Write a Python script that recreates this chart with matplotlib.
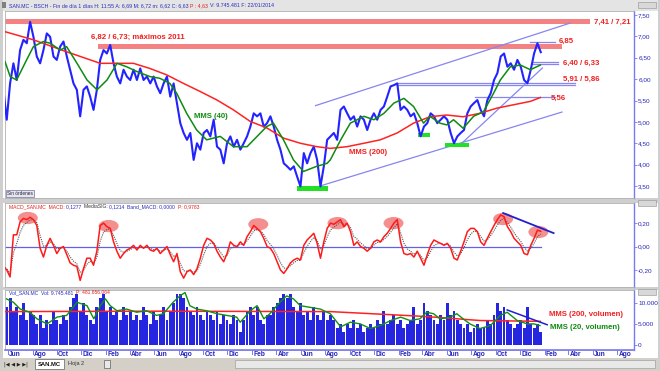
import numpy as np
import pandas as pd
import matplotlib
matplotlib.use('Agg')
import matplotlib.pyplot as plt
import matplotlib.dates as mdates
from matplotlib.patches import Ellipse, Rectangle

plt.rcParams['font.family'] = ['Liberation Sans', 'DejaVu Sans']

# ---------------- data ----------------
price_start, price_end = '2010-05-20', '2014-01-22'
close = [
    5.75, 5.05, 5.90, 6.37, 5.98, 6.68, 6.92, 6.84, 7.34, 6.99,
    6.53, 6.37, 6.68, 7.07, 6.99, 6.53, 6.45, 6.76, 6.88, 6.53,
    6.22, 5.90, 5.75, 5.13, 5.75, 5.83, 5.59, 5.28, 5.75, 6.45,
    6.68, 6.60, 6.80, 6.37, 6.06, 5.90, 6.22, 6.06, 5.98, 6.22,
    5.98, 6.25, 5.98, 6.06, 5.90, 6.06, 5.83, 5.67, 5.90, 6.06,
    5.59, 5.90, 5.44, 4.97, 4.74, 4.58, 4.74, 4.11, 4.50, 4.35,
    4.74, 4.81, 4.66, 5.05, 4.42, 4.35, 4.03, 4.50, 4.66, 4.42,
    4.58, 4.35, 4.50, 4.66, 4.89, 5.20, 5.13, 5.20, 4.89, 4.97,
    5.13, 4.89, 4.58, 4.35, 4.03, 3.96, 3.88, 3.96, 3.72, 3.49,
    4.27, 4.03, 4.27, 4.42, 4.11, 3.49, 3.96, 4.58, 4.66,
    4.74, 4.58, 5.28, 5.36, 5.20, 5.05, 5.13, 4.89, 5.13, 5.05,
    4.81, 5.05, 5.20, 5.05, 5.28, 5.36, 5.59, 5.83, 5.86, 5.90,
    5.28, 5.36, 5.28, 5.13, 5.20, 4.97, 4.66, 4.89, 4.97, 5.20,
    5.13, 4.97, 5.05, 5.13, 5.05, 4.74, 4.50, 4.66, 4.74, 4.81,
    5.20, 5.36, 5.44, 5.51, 5.28, 5.13, 5.51, 5.67, 5.98, 6.14,
    6.53, 6.60, 6.29, 6.37, 6.22, 6.45, 6.29, 5.98, 5.90, 6.22,
    6.60, 6.84, 6.63,
]
macd = [
    -0.17, -0.20, -0.26, 0.10, 0.10, 0.21, 0.24, 0.23, 0.25, 0.23,
    0.18, -0.015, -0.09, 0.01, 0.07, 0.01, -0.06, -0.015, 0.0, -0.07,
    -0.14, -0.16, -0.17, -0.29, -0.19, -0.10, -0.10, -0.16, -0.04, 0.18,
    0.20, 0.17, 0.155, 0.04, -0.04, -0.10, -0.06, -0.03, -0.015, 0.01,
    -0.03, 0.01, -0.015, 0.01, -0.03, -0.04, -0.015, -0.06, -0.03, 0.0,
    -0.07, -0.13, -0.06, -0.215, -0.27, -0.215, -0.20, -0.24, -0.19, -0.10,
    0.01, 0.07, 0.056, 0.027, -0.04, -0.09, -0.13, -0.06, 0.04, 0.01,
    0.0, 0.04, 0.01, 0.084, 0.127, 0.18, 0.155, 0.127, 0.07, 0.0,
    -0.015, -0.06, -0.13, -0.20, -0.23, -0.19, -0.14, -0.115, -0.10, -0.115,
    0.01, 0.056, 0.084, 0.113, 0.027, -0.10, 0.04, 0.155, 0.20,
    0.19, 0.21, 0.23, 0.17, 0.20, 0.127, 0.01, 0.04, 0.0, -0.015,
    -0.04, -0.015, 0.04, 0.056, 0.04, 0.084, 0.113, 0.155, 0.20, 0.23,
    0.04, -0.06, -0.07, -0.06, -0.09, -0.04, -0.10, -0.16, -0.07, 0.01,
    0.056, 0.04, 0.027, 0.01, 0.027, -0.015, -0.10, -0.115, -0.04, 0.04,
    0.127, 0.155, 0.155, 0.127, 0.04, 0.01, 0.07, 0.127, 0.18, 0.23,
    0.27, 0.255, 0.17, 0.127, 0.07, 0.04, 0.01, -0.06, -0.07, 0.01,
    0.07, 0.14, 0.13,
]
volume_k = [
    12, 9, 11, 8, 9, 7, 10, 6, 8, 7,
    5, 7, 4, 6, 5, 8, 6, 5, 7, 6,
    9, 11, 12, 8, 10, 7, 6, 5, 9, 11,
    12, 8, 9, 7, 8, 6, 9, 7, 8, 6,
    7, 6, 9, 7, 5, 8, 6, 7, 9, 6,
    8, 10, 12, 12, 11, 9, 8, 7, 9, 7,
    6, 8, 7, 6, 8, 5, 7, 6, 5, 7,
    6, 3, 6, 8, 9, 7, 9, 6, 5, 7,
    7, 9, 10, 11, 12, 11, 12, 9, 8, 10,
    7, 8, 6, 9, 7, 6, 8, 6, 7,
    6, 4, 5, 3, 5, 4, 6, 4, 5, 3,
    4, 5, 4, 6, 5, 8, 5, 6, 7, 5,
    6, 4, 5, 6, 9, 5, 6, 10, 8, 7,
    6, 5, 7, 6, 10, 7, 8, 6, 5, 4,
    5, 3, 4, 5, 4, 4, 6, 5, 7, 10,
    8, 9, 6, 5, 4, 5, 6, 4, 9, 5,
    4, 5, 3,
]

mms200_dates = ['2010-05-24', '2010-08-03', '2010-10-25', '2011-01-17', '2011-04-10',
                '2011-05-21', '2011-07-02', '2011-08-13', '2011-09-24', '2011-11-05',
                '2011-12-16', '2012-01-27', '2012-03-08', '2012-04-19', '2012-05-31',
                '2012-07-11', '2012-08-14', '2012-09-25', '2012-11-06', '2012-12-17',
                '2013-01-28', '2013-03-10', '2013-04-20', '2013-06-01', '2013-07-12',
                '2013-08-23', '2013-10-04', '2013-11-15', '2013-12-27', '2014-01-21']
mms200 = [7.11, 6.92, 6.64, 6.37, 6.37, 6.25, 6.10, 5.90, 5.71, 5.51,
          5.28, 5.01, 4.86, 4.62, 4.50, 4.42, 4.38, 4.42, 4.50, 4.58,
          4.74, 4.97, 5.12, 5.16, 5.12, 5.20, 5.32, 5.40, 5.48, 5.57]

mms40_dates = ['2010-05-24', '2010-06-06', '2010-06-22', '2010-07-17', '2010-08-03',
               '2010-08-28', '2010-09-14', '2010-10-09', '2010-10-25', '2010-11-20',
               '2010-12-15', '2011-01-09', '2011-02-03', '2011-02-28', '2011-03-24',
               '2011-04-18', '2011-05-21', '2011-06-15', '2011-07-10', '2011-07-27',
               '2011-08-21', '2011-09-15', '2011-10-10', '2011-11-13', '2011-12-16',
               '2012-01-19', '2012-02-13', '2012-03-08', '2012-03-25', '2012-04-19',
               '2012-05-14', '2012-06-08', '2012-07-11', '2012-08-06', '2012-08-14',
               '2012-09-09', '2012-10-03', '2012-11-06', '2012-12-01', '2012-12-26',
               '2013-01-20', '2013-02-14', '2013-03-10', '2013-04-04', '2013-04-20',
               '2013-05-15', '2013-06-01', '2013-06-18', '2013-07-12', '2013-08-07',
               '2013-09-01', '2013-09-26', '2013-10-13', '2013-11-07', '2013-12-02',
               '2013-12-27', '2014-01-21']
mms40 = [6.41, 6.06, 5.98, 6.45, 6.76, 6.88, 6.84, 6.68, 6.76, 6.37,
         5.98, 5.75, 5.98, 6.37, 6.29, 6.18, 6.06, 6.02, 5.90, 5.67,
         5.20, 4.81, 4.58, 4.66, 4.42, 4.42, 4.66, 4.89, 4.97, 4.58,
         4.11, 3.84, 3.96, 4.03, 4.11, 4.58, 4.97, 5.13, 5.05, 5.20,
         5.44, 5.55, 5.36, 4.97, 5.13, 4.97, 4.93, 5.05, 4.85, 5.13,
         5.24, 5.67, 5.98, 6.29, 6.33, 6.22, 6.33]

vol_mms200_dates = ['2010-05-24', '2011-06-01', '2012-08-14', '2013-03-10', '2013-05-01',
                    '2013-08-23', '2014-01-21']
vol_mms200 = [7.9, 8.0, 7.9, 6.9, 6.6, 5.8, 5.6]

vol_mms20_dates = ['2010-05-28', '2010-06-14', '2010-07-01', '2010-07-25', '2010-08-12',
                   '2010-09-06', '2010-10-01', '2010-10-25', '2010-11-20', '2010-12-15',
                   '2011-01-01', '2011-01-17', '2011-01-30', '2011-02-11', '2011-02-28',
                   '2011-03-24', '2011-04-18', '2011-05-13', '2011-06-07', '2011-06-24',
                   '2011-07-18', '2011-08-04', '2011-08-17', '2011-08-29', '2011-09-15',
                   '2011-10-10', '2011-11-05', '2011-11-29', '2011-12-24', '2012-01-02',
                   '2012-01-27', '2012-02-13', '2012-03-01', '2012-03-16', '2012-04-10',
                   '2012-04-27', '2012-05-14', '2012-05-31', '2012-06-25', '2012-07-20',
                   '2012-08-14', '2012-09-09', '2012-10-03', '2012-10-28', '2012-11-22',
                   '2012-12-17', '2013-01-12', '2013-02-06', '2013-03-01', '2013-03-26',
                   '2013-04-12', '2013-04-29', '2013-05-15', '2013-06-10', '2013-06-26',
                   '2013-07-12', '2013-07-29', '2013-08-23', '2013-09-18', '2013-10-13',
                   '2013-10-30', '2013-11-24', '2013-12-19', '2014-01-05', '2014-01-20']
vol_mms20 = [10.9, 10.1, 8.5, 7.75, 6.2, 5.0, 6.6, 7.0, 10.1, 9.3,
             6.2, 9.3, 10.9, 9.3, 8.1, 8.5, 7.75, 8.1, 7.0, 7.4,
             10.1, 11.6, 12.4, 9.3, 8.5, 8.1, 7.4, 7.0, 6.6, 5.4,
             8.1, 9.3, 6.2, 7.4, 10.1, 11.6, 10.9, 9.3, 8.9, 8.5,
             7.4, 4.3, 5.4, 5.0, 3.9, 4.6, 5.8, 6.6, 5.8, 6.2,
             7.75, 7.4, 6.2, 6.6, 7.4, 6.2, 5.0, 3.9, 4.6, 7.0,
             7.75, 5.8, 5.0, 5.0, 4.6]

# resistance bands
band_top = [7.41, 6.82]
band_bottom = [7.28, 6.71]
band_from = ['2010-05-24', '2011-01-12']
band_to = ['2014-05-24', '2014-03-16']

# horizontal levels
level_values = [6.86, 6.41, 6.35, 5.92, 5.86, 5.58]
level_from = ['2013-12-27', '2014-01-01', '2014-01-01', '2013-01-29', '2013-01-29', '2013-08-11']
level_to = ['2014-02-27', '2014-03-06', '2014-03-06', '2014-04-17', '2014-04-17', '2014-02-27']

# trend lines
trend_d0 = ['2012-07-08', '2012-07-02', '2013-07-04']
trend_p0 = [5.38, 3.45, 4.46]
trend_d1 = ['2014-04-05', '2014-03-16', '2014-01-26']
trend_p1 = [7.31, 5.23, 6.26]

# green support marks
sup_from = ['2012-05-23', '2013-03-21', '2013-05-27']
sup_to = ['2012-08-09', '2013-04-20', '2013-07-27']
sup_low = [3.39, 4.65, 4.42]
sup_high = [3.50, 4.74, 4.50]

# MACD peak circles
peak_dates = ['2010-07-20', '2011-02-07', '2012-02-16', '2012-09-01', '2013-01-19',
              '2013-10-20', '2014-01-16']
peak_values = [0.244, 0.175, 0.19, 0.20, 0.20, 0.235, 0.124]

month_es = ['Ene', 'Feb', 'Mar', 'Abr', 'May', 'Jun', 'Jul', 'Ago', 'Sep', 'Oct', 'Nov', 'Dic']

# ---------------- figure ----------------
W, H = 660, 371
fig = plt.figure(figsize=(W / 100, H / 100), dpi=100, facecolor='white')
renderer = fig.canvas.get_renderer()


def pax(x0, y0, x1, y1, z=1):
    return fig.add_axes([x0 / W, 1 - y1 / H, (x1 - x0) / W, (y1 - y0) / H], zorder=z)


def ftext(x, y, s, **kw):
    return fig.text(x / W, 1 - y / H, s, **kw)


def ftext_seq(x, y, parts, size):
    for s, col in parts:
        t = ftext(x, y, s, color=col, fontsize=size, va='center', ha='left')
        x += t.get_window_extent(renderer).width


dates = pd.date_range(price_start, price_end, periods=len(close))
xl = (pd.Timestamp('2010-05-24'), pd.Timestamp('2014-09-12'))
T = pd.to_datetime

# chrome background
bg = pax(0, 0, W, H, z=0)
bg.set_xlim(0, W)
bg.set_ylim(H, 0)
bg.axis('off')
bg.add_patch(Rectangle((0, 0), W, 11, fc='#E4E4E4', ec='none'))
bg.add_patch(Rectangle((0, 198), W, 5, fc='#CFCFCF', ec='none'))
bg.add_patch(Rectangle((0, 287), W, 3, fc='#CFCFCF', ec='none'))
bg.add_patch(Rectangle((0, 358), W, 13, fc='#D4D0C8', ec='none'))
bg.add_patch(Rectangle((0, 0), 3, H, fc='#CFCFCF', ec='none'))
bg.add_patch(Rectangle((658, 0), 2, H, fc='#CFCFCF', ec='none'))
for yb in (0, 198, 287):
    bg.add_patch(Rectangle((638, yb + 1.5), 18, 6, fc='#D8D8D8', ec='#909090', lw=0.4))

AXIS_BLUE = '#7A7AF0'
LABEL_BLUE = '#2525B8'


def style(ax, ticks, labels, ylim):
    ax.set_xlim(*xl)
    ax.set_ylim(*ylim)
    ax.set_facecolor('white')
    ax.set_xticks([])
    ax.yaxis.tick_right()
    ax.set_yticks(ticks)
    ax.set_yticklabels(labels)
    ax.tick_params(axis='y', labelsize=4.6, colors=AXIS_BLUE, labelcolor=LABEL_BLUE,
                   length=2, width=0.6, pad=1)
    for s in ('left', 'top', 'bottom'):
        ax.spines[s].set_color('#B0B0B0')
        ax.spines[s].set_linewidth(0.6)
    ax.spines['right'].set_color(AXIS_BLUE)
    ax.spines['right'].set_linewidth(1.0)


# ---------------- main price panel ----------------
ax = pax(5, 11, 634, 198)
pt = np.arange(3.5, 7.51, 0.5)
style(ax, pt, [f'{v:.2f}'.replace('.', ',') for v in pt], (3.219, 7.594))

for t0, b0, f0, f1 in zip(band_top, band_bottom, band_from, band_to):
    ax.fill_between([T(f0), T(f1)], [b0, b0], [t0, t0], color='#F58282', lw=0, zorder=1)
for v, f0, f1 in zip(level_values, level_from, level_to):
    ax.plot([T(f0), T(f1)], [v, v], color='#8686EE', lw=0.9, zorder=2)
for d0, p0, d1, p1 in zip(trend_d0, trend_p0, trend_d1, trend_p1):
    ax.plot([T(d0), T(d1)], [p0, p1], color='#8686EE', lw=0.9, zorder=2)
for f0, f1, lo, hi in zip(sup_from, sup_to, sup_low, sup_high):
    ax.fill_between([T(f0), T(f1)], [lo, lo], [hi, hi], color='#22E022', lw=0, zorder=2)

ax.plot(dates, close, color='#2323FF', lw=1.5, zorder=3)
ax.plot(T(mms200_dates), mms200, color='#FF2222', lw=1.1, zorder=4)
ax.plot(T(mms40_dates), mms40, color='#108A10', lw=1.1, zorder=4)

bold = dict(fontsize=5.6, fontweight='bold', va='center', ha='left', zorder=6)
ax.text(T('2010-12-25'), 6.985, '6,82 / 6,73; máximos 2011', color='#F02020', **bold)
ax.text(T('2014-06-05'), 7.336, '7,41 / 7,21', color='#F02020', **bold)
ax.text(T('2014-03-07'), 6.89, '6,85', color='#F02020', **bold)
ax.text(T('2014-03-19'), 6.377, '6,40 / 6,33', color='#F02020', **bold)
ax.text(T('2014-03-19'), 6.003, '5,91 / 5,86', color='#F02020', **bold)
ax.text(T('2014-02-15'), 5.558, '5,56', color='#F02020', **bold)
ax.text(T('2011-09-08'), 5.137, 'MMS (40)', color='#108A10', **bold)
ax.text(T('2012-09-30'), 4.295, 'MMS (200)', color='#F02020', **bold)

# ---------------- MACD panel ----------------
am = pax(5, 203, 634, 287)
style(am, [-0.2, 0.0, 0.2], ['-0,20', '0,00', '0,20'], (-0.346, 0.372))
signal = pd.Series(macd).ewm(span=3).mean()
am.plot([dates[0], dates[-1]], [0, 0], color='#6060E8', lw=0.9, zorder=2)
for d, v in zip(peak_dates, peak_values):
    am.add_patch(Ellipse((mdates.date2num(T(d)), v), 50, 0.105, fc='#F27C7C',
                         ec='none', alpha=0.85, zorder=1))
am.plot(dates, signal, color='#555555', lw=0.8, ls=(0, (1, 1)), zorder=3)
am.plot(dates, macd, color='#FF1A1A', lw=1.1, zorder=4)
am.plot([T('2013-10-20'), T('2014-02-23')], [0.286, 0.115], color='#2020D0', lw=1.3, zorder=5)

# ---------------- volume panel ----------------
av = pax(5, 290, 634, 350)
style(av, [0, 5, 10], ['0', '5.000', '10.000'], (-1.16, 13.0))
step = (dates[1] - dates[0]).days
av.bar(dates, volume_k, width=step * 0.9, color='#2626E0', lw=0, zorder=1)
av.plot(T(vol_mms200_dates), vol_mms200, color='#FF2222', lw=1.1, zorder=3)
av.plot(T(vol_mms20_dates), vol_mms20, color='#129012', lw=1.0, zorder=3)
av.plot([T('2013-10-30'), T('2014-02-07')], [8.3, 4.8], color='#2020D0', lw=1.1, zorder=4)
av.text(T('2014-02-12'), 7.2, 'MMS (200, volumen)', color='#F02020', **bold)
av.text(T('2014-02-14'), 4.2, 'MMS (20, volumen)', color='#108A10', **bold)

# ---------------- date axis ----------------
ad = pax(5, 350, 634, 358)
ad.set_xlim(*xl)
ad.set_ylim(1, 0)
ad.axis('off')
ad.plot(xl, [0.02, 0.02], color=AXIS_BLUE, lw=1.2, clip_on=False)
tick_dates = pd.date_range('2010-06-01', '2014-08-01', freq='2MS')
for d in tick_dates:
    ad.plot([d, d], [0, 0.45], color=AXIS_BLUE, lw=0.7)
    ad.text(d + pd.Timedelta(days=3), 0.55, month_es[d.month - 1], color=LABEL_BLUE,
            fontsize=4.8, fontweight='bold', ha='left', va='center')

# ---------------- headers ----------------
ftext_seq(9, 5.5, [('SAN.MC - BSCH - Fin de día 1 días H: 11:55 A: 6,69 M: 6,72 m: 6,62 C: 6,63 ', '#2A2AC0'),
                   ('P : 4,63 ', '#E02020'), ('V: 9.745.481 F: 22/01/2014', '#2A2AC0')], 3.75)
ftext_seq(9, 207, [('MACD_SAN.MC  MACD: ', '#E02020'), ('0,1277  ', '#2A2AC0'),
                   ('MediaSIG: ', '#333333'), ('0,1214  ', '#2A2AC0'),
                   ('Band_MACD: 0,0000  ', '#2A2AC0'), ('P: 0,9783', '#E02020')], 3.6)
ftext_seq(9, 292.5, [('Vol_SAN.MC  Vol: 9.745.481  ', '#2A2AC0'), ('P: 481.656.064', '#E02020')], 3.6)
bg.add_patch(Rectangle((2, 2), 4, 6, fc='#808080', ec='none'))

# "Sin órdenes" button
ax.text(0.003, 0.012, 'Sin órdenes', transform=ax.transAxes, fontsize=3.4, color='#202040',
        ha='left', va='bottom', zorder=7,
        bbox=dict(boxstyle='square,pad=0.25', fc='#E6E6EE', ec='#7070A0', lw=0.5))

# bottom tabs
ftext(4, 364.5, '|◀ ◀ ▶ ▶|', fontsize=3.6, color='#202020', va='center', family='DejaVu Sans')
bg.add_patch(Rectangle((35, 359), 29, 10, fc='white', ec='#606060', lw=0.5))
ftext(38, 364, 'SAN.MC', fontsize=4.2, fontweight='bold', color='#101010', va='center')
ftext(68, 364, 'Hoja 2', fontsize=4.0, color='#303030', va='center')
bg.add_patch(Rectangle((104, 360), 6, 8, fc='#E8E8E8', ec='#606060', lw=0.5))
bg.add_patch(Rectangle((235, 360), 420, 8, fc='#E8E8E8', ec='#A0A0A0', lw=0.5))

fig.savefig('out.png', dpi=100, facecolor=fig.get_facecolor())
